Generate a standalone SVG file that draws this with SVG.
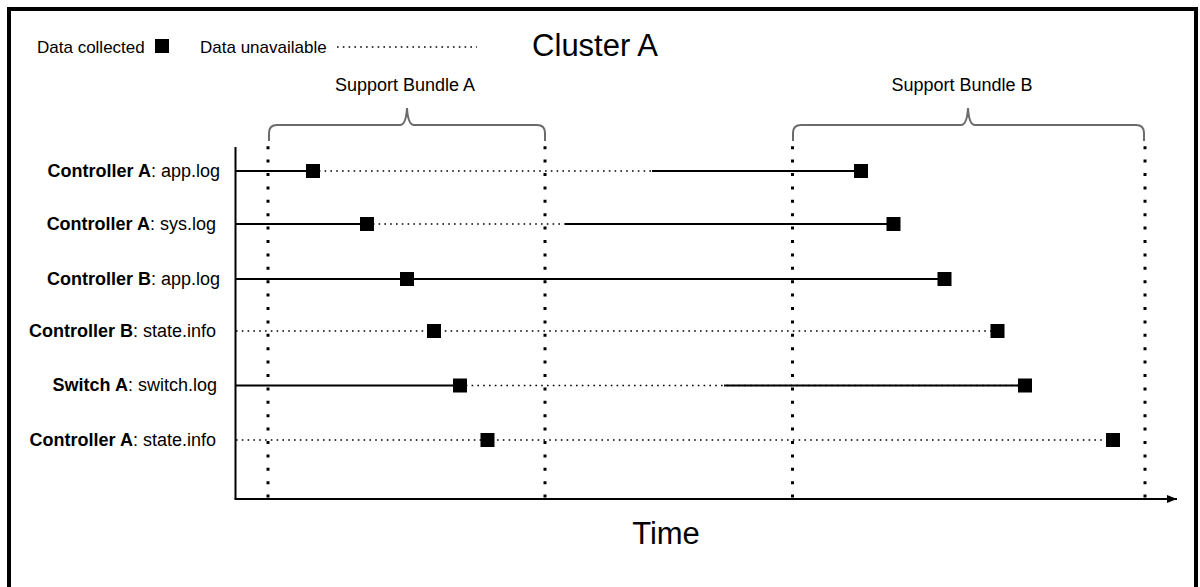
<svg xmlns="http://www.w3.org/2000/svg" width="1200" height="587" viewBox="0 0 1200 587">
  <style>
    text { font-family: "Liberation Sans", Arial, sans-serif; fill: #000; }
    .lbl { font-size: 18px; text-anchor: end; }
    .lbl .b { font-weight: bold; }
    .small { font-size: 18px; }
    .legend { font-size: 17px; }
    .big { font-size: 31px; }
    .mid { text-anchor: middle; }
    .solid { stroke: #000; stroke-width: 2; fill: none; }
    .dot { stroke: #000; stroke-width: 1.6; fill: none; stroke-dasharray: 1.6 4.2; }
    .mark { fill: #000; }
    .guide { stroke: #000; stroke-width: 3; fill: none; stroke-dasharray: 3 10.4; }
    .brace { stroke: #6b6b6b; stroke-width: 2; fill: none; }
  </style>
  <defs>
    <marker id="arrow" markerWidth="10" markerHeight="8" refX="10" refY="4" orient="auto" markerUnits="userSpaceOnUse">
      <path d="M0,0 L10,4 L0,8 Z" fill="#000"/>
    </marker>
  </defs>

  <!-- frame -->
  <rect x="9" y="9" width="1187" height="600" fill="#fff" stroke="#000" stroke-width="4"/>

  <!-- legend -->
  <g id="legend">
    <text class="legend" x="37" y="53">Data collected</text>
    <rect class="mark" x="155" y="39" width="14" height="14"/>
    <text class="legend" x="200" y="53">Data unavailable</text>
    <line class="dot" x1="337" y1="47" x2="477" y2="47"/>
  </g>

  <g id="title">
    <text class="big mid" x="595" y="56">Cluster A</text>
  </g>

  <!-- support bundle brackets -->
  <g id="bundle-a">
    <text class="small mid" x="405" y="91">Support Bundle A</text>
    <path class="brace" d="M269,141 L269,133 Q269,125 277,125 L400,125 Q406,125 407,108 Q408,125 414,125 L537,125 Q545,125 545,133 L545,141"/>
  </g>
  <g id="bundle-b">
    <text class="small mid" x="962" y="91">Support Bundle B</text>
    <path class="brace" d="M793,141 L793,133 Q793,125 801,125 L961,125 Q967,125 968,108 Q969,125 975,125 L1136,125 Q1144,125 1144,133 L1144,141"/>
  </g>

  <!-- bundle boundaries -->
  <g id="boundaries">
    <line class="guide" x1="268" y1="146.2" x2="268" y2="499"/>
    <line class="guide" x1="545" y1="146.2" x2="545" y2="499"/>
    <line class="guide" x1="792.5" y1="146.2" x2="792.5" y2="499"/>
    <line class="guide" x1="1145" y1="146.2" x2="1145" y2="499"/>
  </g>

  <!-- axes -->
  <g id="axis">
    <line class="solid" x1="235.5" y1="147" x2="235.5" y2="499"/>
    <line class="solid" x1="234.5" y1="499" x2="1177" y2="499" marker-end="url(#arrow)"/>
    <text class="big mid" x="666" y="544">Time</text>
  </g>

  <!-- log timelines -->
  <g id="connectors">
    <line class="solid" x1="235" y1="171" x2="313" y2="171"/>
    <line class="dot" x1="313" y1="171" x2="861" y2="171"/>
    <line class="solid" x1="652" y1="171" x2="861" y2="171"/>

    <line class="solid" x1="235" y1="224" x2="367" y2="224"/>
    <line class="dot" x1="367" y1="224" x2="893" y2="224"/>
    <line class="solid" x1="565" y1="224" x2="893" y2="224"/>

    <line class="solid" x1="235" y1="279" x2="944" y2="279"/>

    <line class="dot" x1="236" y1="331" x2="997" y2="331"/>

    <line class="solid" x1="235" y1="385.5" x2="460" y2="385.5"/>
    <line class="dot" x1="460" y1="385.5" x2="1025" y2="385.5"/>
    <line class="solid" x1="724" y1="385.5" x2="1025" y2="385.5"/>

    <line class="dot" x1="236" y1="440" x2="1113" y2="440"/>
  </g>

  <g id="row-ctrl-a-app">
    <text class="lbl" x="220" y="177"><tspan class="b">Controller A</tspan>: app.log</text>
    <rect class="mark" x="306" y="164" width="14" height="14"/>
    <rect class="mark" x="854" y="164" width="14" height="14"/>
  </g>
  <g id="row-ctrl-a-sys">
    <text class="lbl" x="216" y="230"><tspan class="b">Controller A</tspan>: sys.log</text>
    <rect class="mark" x="360" y="217" width="14" height="14"/>
    <rect class="mark" x="886.5" y="217" width="14" height="14"/>
  </g>
  <g id="row-ctrl-b-app">
    <text class="lbl" x="220" y="285"><tspan class="b">Controller B</tspan>: app.log</text>
    <rect class="mark" x="400" y="272" width="14" height="14"/>
    <rect class="mark" x="937.5" y="272" width="14" height="14"/>
  </g>
  <g id="row-ctrl-b-state">
    <text class="lbl" x="216" y="337"><tspan class="b">Controller B</tspan>: state.info</text>
    <rect class="mark" x="427" y="324" width="14" height="14"/>
    <rect class="mark" x="990.5" y="324" width="14" height="14"/>
  </g>
  <g id="row-switch-a">
    <text class="lbl" x="217" y="391"><tspan class="b">Switch A</tspan>: switch.log</text>
    <rect class="mark" x="453" y="378.5" width="14" height="14"/>
    <rect class="mark" x="1018" y="378.5" width="14" height="14"/>
  </g>
  <g id="row-ctrl-a-state">
    <text class="lbl" x="216" y="446"><tspan class="b">Controller A</tspan>: state.info</text>
    <rect class="mark" x="480.5" y="433" width="14" height="14"/>
    <rect class="mark" x="1106" y="433" width="14" height="14"/>
  </g>
</svg>
